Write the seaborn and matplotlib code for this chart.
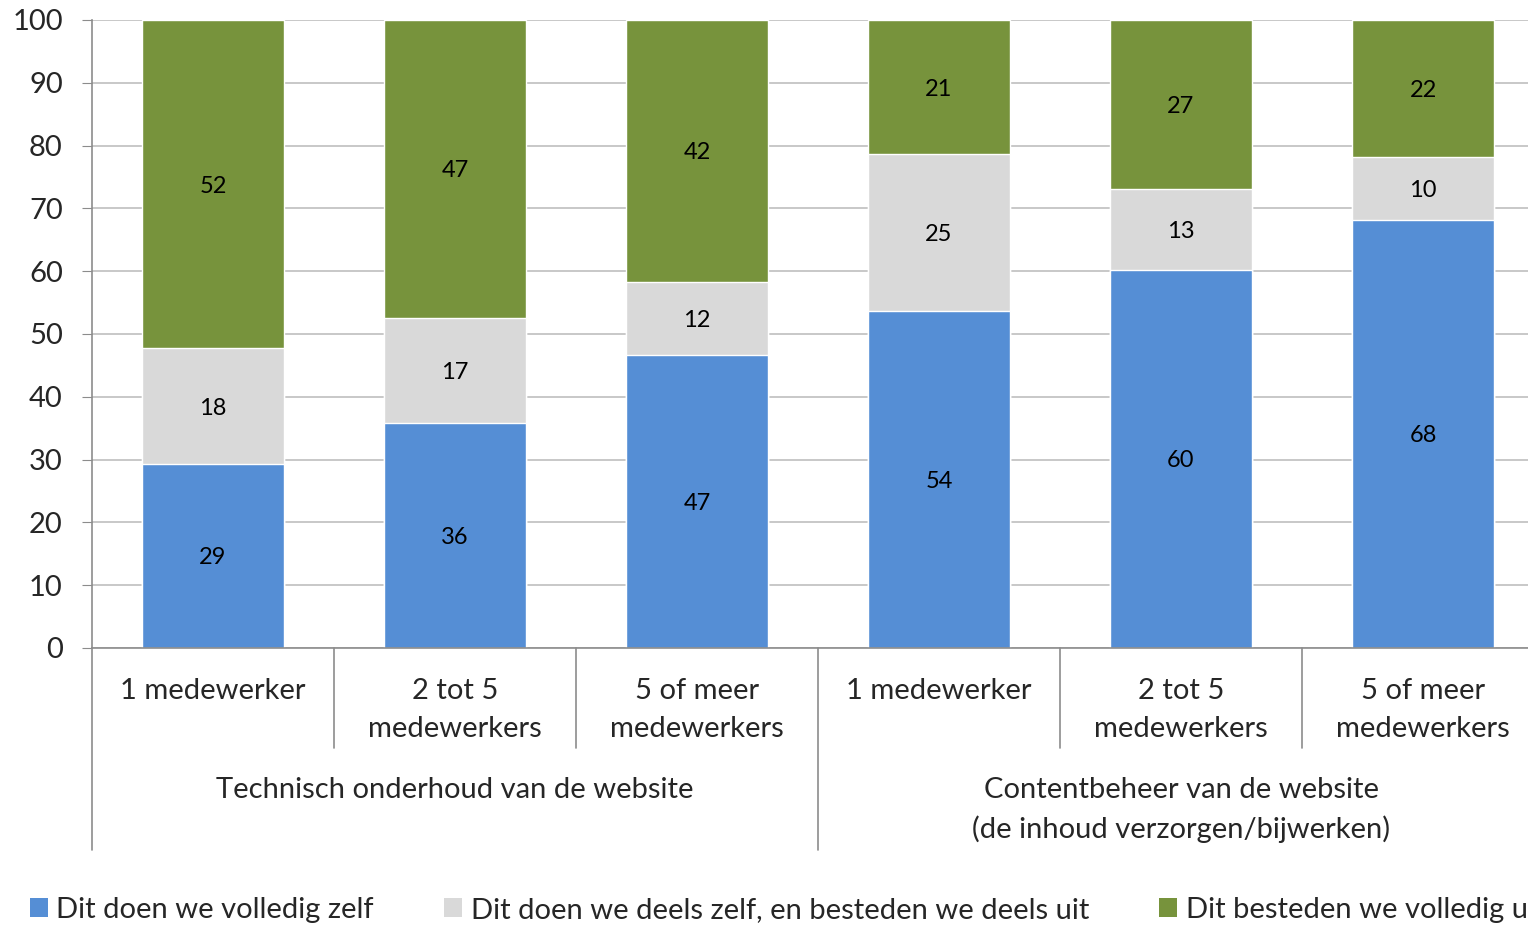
import numpy as np
import pandas as pd
import matplotlib
matplotlib.use("Agg")
import matplotlib.pyplot as plt
import matplotlib.transforms as mtransforms
from matplotlib.patches import Patch
import seaborn as sns

# data (percentages)
categories = ["1 medewerker", "2 tot 5\nmedewerkers", "5 of meer\nmedewerkers",
              "1 medewerker ", "2 tot 5\nmedewerkers ", "5 of meer\nmedewerkers "]
groups = ["Technisch onderhoud van de website",
          "Contentbeheer van de website\n(de inhoud verzorgen/bijwerken)"]
zelf = [29.3, 35.8, 46.6, 53.6, 60.2, 68.2]
deels = [18.4, 16.8, 11.7, 25.0, 12.9, 10.0]
uit = [52.3, 47.4, 41.7, 21.4, 26.9, 21.8]
series_names = ["Dit doen we volledig zelf",
                "Dit doen we deels zelf, en besteden we deels uit",
                "Dit besteden we volledig uit"]
colors = ["#558ED5", "#D9D9D9", "#77933C"]

sns.set_style("white")
plt.rcParams["font.family"] = ["Lato", "DejaVu Sans"]

df = pd.DataFrame({"cat": categories, "zelf": zelf, "deels": deels, "uit": uit})
df["top2"] = df["zelf"] + df["deels"]
df["top3"] = df["top2"] + df["uit"]

fig = plt.figure(figsize=(15.28, 9.26), dpi=100)
ax = fig.add_axes([92 / 1528, 1 - 648 / 926, 1452 / 1528, 628 / 926])

# stacked bars drawn as cumulative totals, tallest first
sns.barplot(data=df, x="cat", y="top3", color=colors[2], width=142 / 242,
            saturation=1, ax=ax, zorder=2)
sns.barplot(data=df, x="cat", y="top2", color=colors[1], width=142 / 242,
            saturation=1, ax=ax, zorder=2)
sns.barplot(data=df, x="cat", y="zelf", color=colors[0], width=142 / 242,
            saturation=1, ax=ax, zorder=2)

# value labels in the middle of each segment
for i in range(len(df)):
    segs = [(0, zelf[i]), (df["zelf"][i], deels[i]), (df["top2"][i], uit[i])]
    for base, h in segs:
        ax.text(i, base + h / 2, f"{h:.0f}", ha="center", va="center_baseline",
                fontsize=17, color="black", zorder=3)

ax.set_xlim(-0.5, 5.5)
ax.set_ylim(0, 100)
ax.set_yticks(range(0, 101, 10))
ax.tick_params(axis="y", labelsize=21, length=7, color="#8C8C8C", pad=14, direction="out", left=True)
ax.yaxis.grid(True, color="#BFBFBF", linewidth=1.2, zorder=0)
ax.set_axisbelow(True)
ax.set_xlabel("")
ax.set_ylabel("")
ax.set_xticks([])
for s in ["top", "right"]:
    ax.spines[s].set_visible(False)
for s in ["left", "bottom"]:
    ax.spines[s].set_color("#8C8C8C")
    ax.spines[s].set_linewidth(1.2)

# two-level category axis
trans = mtransforms.blended_transform_factory(ax.transData, ax.transAxes)
for i, c in enumerate(categories):
    ax.text(i, -30 / 628, c.strip(), transform=trans, ha="center", va="top",
            fontsize=21, linespacing=1.58)
for g, xc in zip(groups, [1, 4]):
    ax.text(xc, -129 / 628, g, transform=trans, ha="center", va="top",
            fontsize=21, linespacing=1.55)
for xs in [-0.5, 0.5, 1.5, 2.5, 3.5, 4.5]:
    y_end = -202 / 628 if xs in (-0.5, 2.5) else -100 / 628
    ax.plot([xs, xs], [0, y_end], transform=trans, color="#8C8C8C",
            linewidth=1.2, clip_on=False)

# legend runs past the right edge, as in the original
handles = [Patch(facecolor=c, edgecolor="none") for c in colors]
fig.legend(handles, series_names, loc="center left", bbox_to_anchor=(18 / 1528, 1 - 910 / 926),
           ncol=3, frameon=False, fontsize=21, handlelength=0.62, handleheight=0.62,
           handletextpad=0.3, columnspacing=2.4, borderaxespad=0)

fig.savefig("out.png", dpi=100)
